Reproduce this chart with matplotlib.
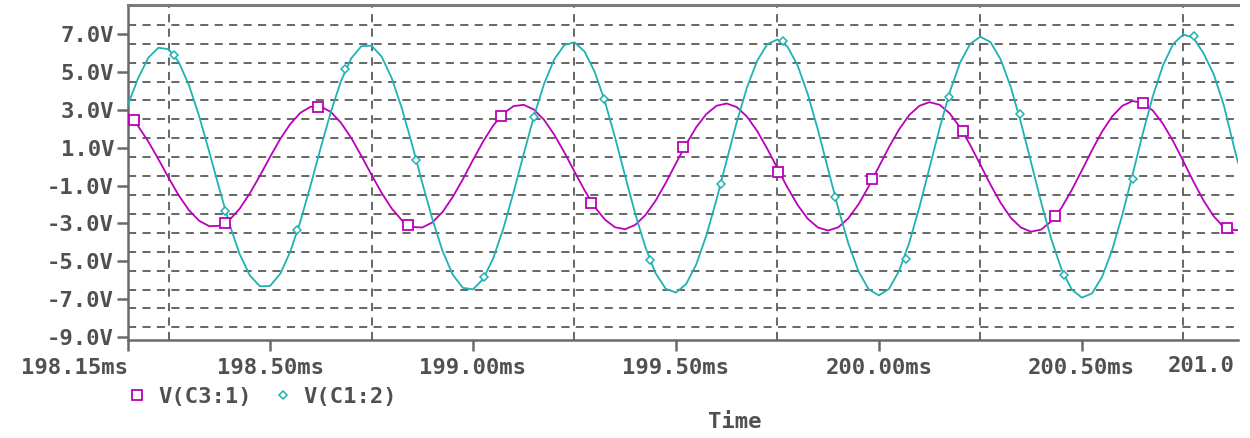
import matplotlib
matplotlib.use("Agg")
import matplotlib.pyplot as plt
from matplotlib.lines import Line2D

# sample times (ms)
time_ms = [
    198.150, 198.175, 198.200, 198.225, 198.250, 198.275, 198.300, 198.325, 198.350, 198.375,
    198.400, 198.425, 198.450, 198.475, 198.500, 198.525, 198.550, 198.575, 198.600, 198.625,
    198.650, 198.675, 198.700, 198.725, 198.750, 198.775, 198.800, 198.825, 198.850, 198.875,
    198.900, 198.925, 198.950, 198.975, 199.000, 199.025, 199.050, 199.075, 199.100, 199.125,
    199.150, 199.175, 199.200, 199.225, 199.250, 199.275, 199.300, 199.325, 199.350, 199.375,
    199.400, 199.425, 199.450, 199.475, 199.500, 199.525, 199.550, 199.575, 199.600, 199.625,
    199.650, 199.675, 199.700, 199.725, 199.750, 199.775, 199.800, 199.825, 199.850, 199.875,
    199.900, 199.925, 199.950, 199.975, 200.000, 200.025, 200.050, 200.075, 200.100, 200.125,
    200.150, 200.175, 200.200, 200.225, 200.250, 200.275, 200.300, 200.325, 200.350, 200.375,
    200.400, 200.425, 200.450, 200.475, 200.500, 200.525, 200.550, 200.575, 200.600, 200.625,
    200.650, 200.675, 200.700, 200.725, 200.750, 200.775, 200.800, 200.825, 200.850, 200.875,
    200.885,
]

# V(C3:1), volts
v_c3 = [
    2.75, 2.14, 1.33, 0.39, -0.59, -1.52, -2.30, -2.86, -3.15, -3.13,
    -2.82, -2.23, -1.42, -0.48, 0.51, 1.46, 2.26, 2.85, 3.17, 3.18,
    2.89, 2.31, 1.52, 0.57, -0.43, -1.39, -2.22, -2.84, -3.19, -3.22,
    -2.95, -2.40, -1.61, -0.67, 0.35, 1.33, 2.18, 2.82, 3.20, 3.27,
    3.02, 2.48, 1.70, 0.76, -0.26, -1.25, -2.13, -2.80, -3.21, -3.31,
    -3.08, -2.56, -1.80, -0.86, 0.17, 1.18, 2.08, 2.78, 3.22, 3.34,
    3.15, 2.65, 1.89, 0.95, -0.08, -1.11, -2.03, -2.76, -3.22, -3.38,
    -3.21, -2.73, -1.99, -1.05, -0.01, 1.03, 1.97, 2.73, 3.22, 3.41,
    3.27, 2.81, 2.08, 1.15, 0.11, -0.95, -1.91, -2.70, -3.22, -3.44,
    -3.33, -2.89, -2.18, -1.25, -0.21, 0.86, 1.85, 2.66, 3.22, 3.47,
    3.38, 2.97, 2.27, 1.35, 0.30, -0.78, -1.79, -2.62, -3.21, -3.35,
    -3.36,
]

# V(C1:2), volts
v_c1 = [
    3.28, 4.68, 5.76, 6.29, 6.21, 5.53, 4.32, 2.69, 0.80, -1.17,
    -3.04, -4.62, -5.75, -6.33, -6.31, -5.67, -4.49, -2.88, -0.98, 1.01,
    2.91, 4.54, 5.73, 6.37, 6.40, 5.82, 4.67, 3.07, 1.17, -0.85,
    -2.78, -4.46, -5.71, -6.41, -6.49, -5.95, -4.84, -3.26, -1.36, 0.67,
    2.65, 4.37, 5.67, 6.43, 6.58, 6.09, 5.01, 3.45, 1.55, -0.50,
    -2.51, -4.27, -5.64, -6.46, -6.66, -6.22, -5.18, -3.64, -1.75, 0.32,
    2.36, 4.18, 5.59, 6.47, 6.73, 6.35, 5.35, 3.83, 1.94, -0.14,
    -2.21, -4.07, -5.54, -6.49, -6.81, -6.47, -5.51, -4.02, -2.14, -0.05,
    2.05, 3.96, 5.49, 6.49, 6.87, 6.59, 5.68, 4.22, 2.34, 0.24,
    -1.89, -3.84, -5.42, -6.49, -6.93, -6.71, -5.84, -4.40, -2.55, -0.44,
    1.72, 3.71, 5.35, 6.48, 6.99, 6.82, 6.00, 4.90, 3.25, 1.05,
    0.21,
]

# marker points drawn on the traces
c3_marker_t = [198.164, 198.390, 198.618, 198.840, 199.068, 199.291, 199.518,
               199.752, 199.983, 200.207, 200.434, 200.650, 200.858]
c3_marker_v = [2.49, -2.99, 3.16, -3.10, 2.67, -1.90, 1.03,
               -0.29, -0.64, 1.91, -2.61, 3.37, -3.27]
c1_marker_t = [198.263, 198.390, 198.567, 198.685, 198.859, 199.027, 199.150,
               199.322, 199.436, 199.610, 199.765, 199.893, 200.066, 200.172,
               200.348, 200.457, 200.627, 200.777]
c1_marker_v = [5.92, -2.34, -3.36, 5.16, 0.33, -5.82, 2.63,
               3.58, -4.94, -0.90, 6.62, -1.60, -4.86, 3.67,
               2.79, -5.73, -0.67, 6.92]

x_ticks = [198.15, 198.50, 199.00, 199.50, 200.00, 200.50]
x_labels = ["198.15ms", "198.50ms", "199.00ms", "199.50ms", "200.00ms", "200.50ms"]
y_ticks = [-9, -7, -5, -3, -1, 1, 3, 5, 7]
y_labels = ["-9.0V", "-7.0V", "-5.0V", "-3.0V", "-1.0V", "1.0V", "3.0V", "5.0V", "7.0V"]
x_grid = [198.25, 198.75, 199.25, 199.75, 200.25, 200.75]
y_grid = [-8.5, -7.5, -6.5, -5.5, -4.5, -3.5, -2.5, -1.5, -0.5,
          0.5, 1.5, 2.5, 3.5, 4.5, 5.5, 6.5, 7.5]

MAGENTA = "#bb00bb"
CYAN = "#1fb2b2"
AXIS = "#6a6a6a"
TEXT = "#505050"

plt.rcParams["font.family"] = ["DejaVu Sans Mono"]
plt.rcParams["font.weight"] = "bold"
font_size = 16

fig = plt.figure(figsize=(12.5, 4.38), dpi=100)
ax = fig.add_axes([128 / 1250, 1 - 340 / 438, 1110 / 1250, 335 / 438])

ax.plot(time_ms, v_c3, color=MAGENTA, lw=1.3, zorder=3)
ax.plot(time_ms, v_c1, color=CYAN, lw=1.3, zorder=3)
ax.plot(c3_marker_t, c3_marker_v, ls="none", marker="s", ms=6.5, mfc="white",
        mec=MAGENTA, mew=1.3, zorder=4)
ax.plot(c1_marker_t, c1_marker_v, ls="none", marker="D", ms=4.5, mfc="white",
        mec=CYAN, mew=1.1, zorder=4)

ax.set_xlim(198.15, 200.885)
ax.set_ylim(-9.17, 8.55)

ax.set_xticks(x_ticks)
ax.set_xticklabels(x_labels)
ax.get_xticklabels()[0].set_horizontalalignment("right")
ax.set_yticks(y_ticks)
ax.set_yticklabels(y_labels)
ax.set_xticks(x_grid, minor=True)
ax.set_yticks(y_grid, minor=True)
ax.tick_params(which="major", direction="out", length=8, width=1.8, color=AXIS,
               labelcolor=TEXT, labelsize=font_size)
ax.tick_params(axis="x", which="major", pad=5)
ax.tick_params(axis="y", which="major", pad=2)
ax.tick_params(which="minor", length=0)
ax.grid(which="minor", color="#5a5a5a", lw=1.3, ls=(0, (4.5, 3.5)))

for side in ["left", "bottom"]:
    ax.spines[side].set_color(AXIS)
    ax.spines[side].set_linewidth(1.8)
ax.spines["top"].set_color("#7a7a7a")
ax.spines["top"].set_linewidth(2.2)
ax.spines["right"].set_visible(False)

ax.set_xlabel("Time", fontsize=font_size, color=TEXT, fontweight="bold")
ax.xaxis.set_label_coords((735 - 128) / 1110, (340 - 422) / 335)
ax.xaxis.label.set_verticalalignment("center")

# last axis label, only partly visible at the right border in the original
fig.text(1168 / 1250, 1 - 366 / 438, "201.0", fontsize=font_size, color=TEXT,
         fontweight="bold", ha="left", va="center")

handles = [
    Line2D([], [], ls="none", marker="s", ms=6.5, mfc="white", mec=MAGENTA, mew=1.3),
    Line2D([], [], ls="none", marker="D", ms=4.5, mfc="white", mec=CYAN, mew=1.1),
]
fig.legend(handles, ["V(C3:1)", "V(C1:2)"], loc="center left",
           bbox_to_anchor=(128 / 1250, 1 - 397 / 438), ncol=2, frameon=False,
           fontsize=font_size, labelcolor=TEXT, handlelength=0.8,
           handletextpad=0.55, columnspacing=1.0, borderpad=0, borderaxespad=0)

fig.savefig("out.png", dpi=100)
